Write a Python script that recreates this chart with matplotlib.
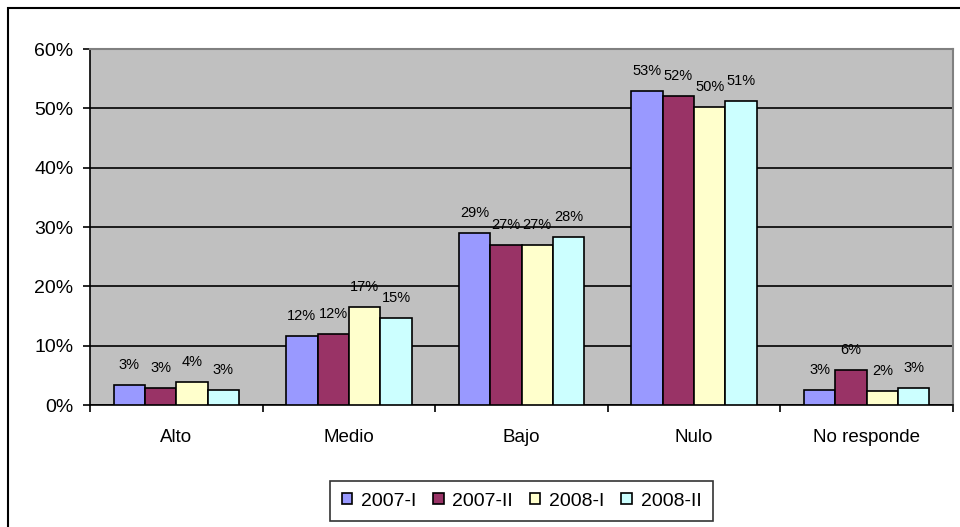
import numpy as np
from matplotlib import pyplot as plt
from matplotlib.patches import Rectangle

categories = ["Alto", "Medio", "Bajo", "Nulo", "No responde"]
series = ["2007-I", "2007-II", "2008-I", "2008-II"]
values = [
    [3.3, 11.7, 29.0, 53.0, 2.6],   # 2007-I
    [2.9, 11.9, 26.9, 52.0, 5.9],   # 2007-II
    [3.9, 16.6, 26.9, 50.3, 2.3],   # 2008-I
    [2.6, 14.6, 28.3, 51.3, 2.9],   # 2008-II
]
colors = ["#9999FF", "#993366", "#FFFFCC", "#CCFFFF"]

plt.rcParams["font.family"] = ["Liberation Sans", "DejaVu Sans"]

W, H = 960, 527
fig = plt.figure(figsize=(9.6, 5.27), dpi=100)
ax = fig.add_axes([90 / W, 1 - 405 / H, (953 - 90) / W, (405 - 49) / H])

# outer chart border (clipped on right/bottom as in the original)
fig.patches.append(Rectangle((8 / W, -0.1), 1.2, 1 - 8 / H + 0.1, transform=fig.transFigure,
                             fill=False, edgecolor="black", linewidth=1.5))

ax.set_facecolor("#C0C0C0")
x = np.arange(len(categories))
bw = 1 / 5.5
for i, (name, vals) in enumerate(zip(series, values)):
    pos = x - 2 * bw + (i + 0.5) * bw
    bars = ax.bar(pos, vals, width=bw, color=colors[i], edgecolor="black",
                  linewidth=1.2, label=name, zorder=3)
    for b, v in zip(bars, vals):
        ax.annotate(f"{round(v):.0f}%", (b.get_x() + b.get_width() / 2, v),
                    xytext=(0, 20), textcoords="offset pixels",
                    ha="center", va="center", fontsize=10.5, color="black", zorder=4)

ax.set_xlim(-0.5, len(categories) - 0.5)
ax.set_ylim(0, 60)
ax.set_yticks(range(0, 61, 10))
ax.set_yticklabels([f"{t}%" for t in range(0, 61, 10)], fontsize=14)
ax.yaxis.grid(True, color="black", linewidth=1.2, zorder=1)
ax.set_axisbelow(True)

ax.set_xticks(x)
ax.set_xticklabels(categories, fontsize=13.5)
ax.set_xticks(np.arange(-0.5, len(categories)), minor=True)
ax.tick_params(axis="x", which="major", length=0, pad=17)
ax.tick_params(axis="x", which="minor", length=5, width=1.2, direction="out")
ax.tick_params(axis="y", length=5, width=1.2, direction="out", pad=7)

for s in ["top", "right"]:
    ax.spines[s].set_color("#808080")
    ax.spines[s].set_linewidth(1.5)
for s in ["left", "bottom"]:
    ax.spines[s].set_color("black")
    ax.spines[s].set_linewidth(1.2)

leg = fig.legend(loc="center", bbox_to_anchor=(521.5 / W, 1 - 501 / H), ncol=4,
                 fontsize=14, frameon=True, fancybox=False, edgecolor="black",
                 handlelength=0.55, handleheight=0.55, handletextpad=0.45,
                 columnspacing=0.85, borderpad=0.6)
leg.get_frame().set_linewidth(1.2)
for h in leg.legend_handles:
    h.set_linewidth(1.2)

fig.savefig("out.png", dpi=100, facecolor="white")
